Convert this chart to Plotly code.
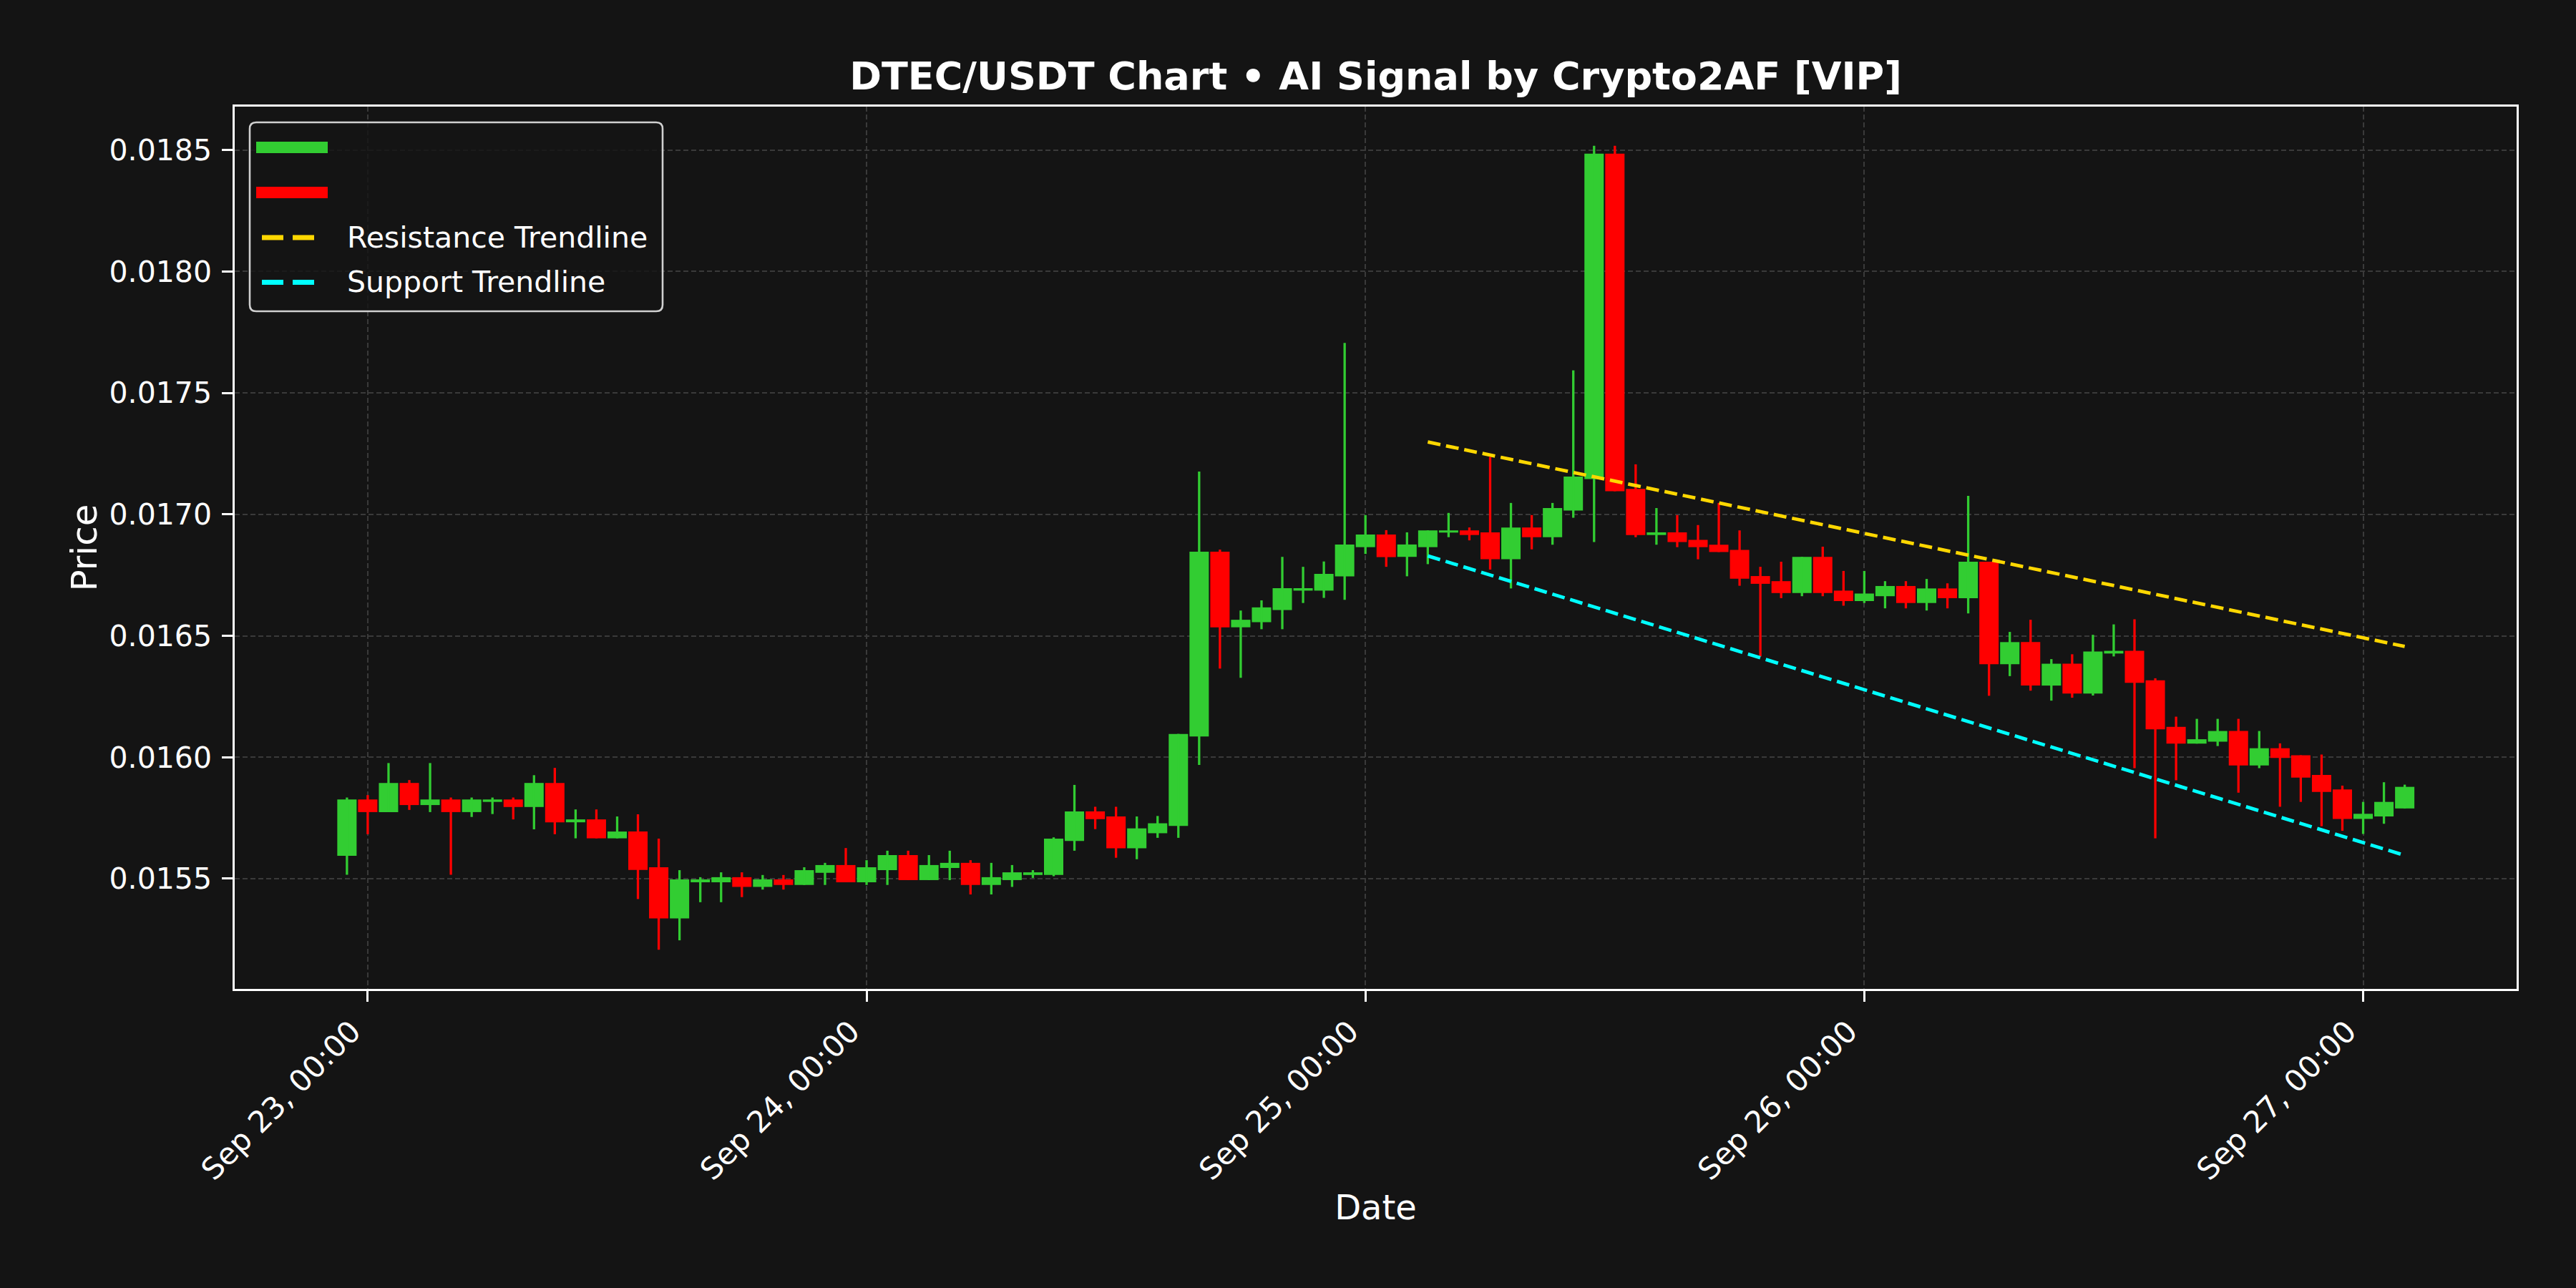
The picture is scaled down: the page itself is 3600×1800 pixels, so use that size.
import plotly.graph_objects as go
import pandas as pd

# ---------------- data ----------------
times = pd.date_range("2025-09-22 23:00", periods=100, freq="h")

opens = [0.015594, 0.015826, 0.015774, 0.015894, 0.015803, 0.015826, 0.015774, 0.015816, 0.015826, 0.015795,
         0.015894, 0.015732, 0.015744, 0.015666, 0.015694, 0.015547, 0.015336, 0.015485, 0.015485, 0.015506,
         0.015466, 0.015497, 0.015474, 0.015524, 0.015556, 0.015485, 0.015535, 0.015597, 0.015494, 0.015544,
         0.015565, 0.015474, 0.015494, 0.015515, 0.015515, 0.015655, 0.015777, 0.015756, 0.015625, 0.015687,
         0.015717, 0.016085, 0.016846, 0.016535, 0.016556, 0.016606, 0.016686, 0.016686, 0.016745, 0.016865,
         0.016917, 0.016825, 0.016865, 0.016925, 0.016934, 0.016926, 0.016815, 0.016946, 0.016906, 0.017016,
         0.017145, 0.018485, 0.017105, 0.016915, 0.016926, 0.016895, 0.016875, 0.016854, 0.016746, 0.016725,
         0.016676, 0.016825, 0.016686, 0.016643, 0.016663, 0.016705, 0.016635, 0.016695, 0.016655, 0.016805,
         0.016383, 0.016474, 0.016295, 0.016385, 0.016262, 0.016427, 0.016438, 0.016317, 0.016125, 0.016056,
         0.016064, 0.016108, 0.015966, 0.016037, 0.016008, 0.015927, 0.015867, 0.015746, 0.015756, 0.015789]

highs = [0.015834, 0.015844, 0.015976, 0.015906, 0.015976, 0.015834, 0.015834, 0.015834, 0.015834, 0.015926,
         0.015956, 0.015785, 0.015785, 0.015756, 0.015765, 0.015665, 0.015535, 0.015506, 0.015526, 0.015526,
         0.015515, 0.015515, 0.015547, 0.015565, 0.015626, 0.015576, 0.015615, 0.015615, 0.015597, 0.015615,
         0.015576, 0.015565, 0.015556, 0.015535, 0.015670, 0.015886, 0.015796, 0.015796, 0.015756, 0.015758,
         0.016096, 0.017176, 0.016855, 0.016604, 0.016646, 0.016825, 0.016784, 0.016806, 0.017706, 0.016997,
         0.016935, 0.016926, 0.016934, 0.017006, 0.016946, 0.017237, 0.017047, 0.016997, 0.017047, 0.017593,
         0.018518, 0.018518, 0.017206, 0.017026, 0.016997, 0.016956, 0.017047, 0.016934, 0.016784, 0.016805,
         0.016825, 0.016867, 0.016767, 0.016767, 0.016725, 0.016725, 0.016734, 0.016716, 0.017076, 0.016805,
         0.016516, 0.016566, 0.016404, 0.016424, 0.016504, 0.016547, 0.016568, 0.016325, 0.016167, 0.016158,
         0.016158, 0.016158, 0.016108, 0.016057, 0.016008, 0.016011, 0.015883, 0.015816, 0.015897, 0.015887]

lows = [0.015516, 0.015683, 0.015774, 0.015783, 0.015774, 0.015516, 0.015754, 0.015766, 0.015744, 0.015703,
        0.015683, 0.015666, 0.015666, 0.015666, 0.015416, 0.015207, 0.015246, 0.015403, 0.015403, 0.015424,
        0.015455, 0.015455, 0.015474, 0.015474, 0.015485, 0.015474, 0.015474, 0.015494, 0.015494, 0.015494,
        0.015435, 0.015435, 0.015466, 0.015503, 0.015510, 0.015615, 0.015704, 0.015586, 0.015580, 0.015668,
        0.015668, 0.015968, 0.016365, 0.016327, 0.016527, 0.016527, 0.016635, 0.016656, 0.016648, 0.016837,
        0.016784, 0.016745, 0.016795, 0.016906, 0.016893, 0.016773, 0.016695, 0.016856, 0.016875, 0.016986,
        0.016886, 0.017095, 0.016906, 0.016875, 0.016865, 0.016815, 0.016845, 0.016706, 0.016415, 0.016655,
        0.016663, 0.016663, 0.016624, 0.016635, 0.016613, 0.016613, 0.016604, 0.016613, 0.016592, 0.016253,
        0.016334, 0.016274, 0.016233, 0.016245, 0.016254, 0.016415, 0.015955, 0.015666, 0.015905, 0.016056,
        0.016046, 0.015854, 0.015955, 0.015796, 0.015816, 0.015716, 0.015697, 0.015684, 0.015726, 0.015789]

closes = [0.015826, 0.015774, 0.015894, 0.015803, 0.015826, 0.015774, 0.015826, 0.015826, 0.015795, 0.015894,
          0.015732, 0.015744, 0.015666, 0.015694, 0.015536, 0.015336, 0.015497, 0.015497, 0.015506, 0.015466,
          0.015497, 0.015474, 0.015535, 0.015556, 0.015485, 0.015547, 0.015597, 0.015494, 0.015556, 0.015565,
          0.015474, 0.015506, 0.015526, 0.015526, 0.015665, 0.015777, 0.015745, 0.015625, 0.015707, 0.015728,
          0.016096, 0.016846, 0.016535, 0.016566, 0.016617, 0.016696, 0.016696, 0.016755, 0.016876, 0.016917,
          0.016824, 0.016876, 0.016934, 0.016934, 0.016915, 0.016815, 0.016946, 0.016906, 0.017026, 0.017156,
          0.018485, 0.017095, 0.016915, 0.016926, 0.016886, 0.016865, 0.016845, 0.016735, 0.016714, 0.016676,
          0.016825, 0.016676, 0.016643, 0.016674, 0.016705, 0.016635, 0.016695, 0.016655, 0.016805, 0.016383,
          0.016474, 0.016295, 0.016385, 0.016262, 0.016435, 0.016438, 0.016306, 0.016115, 0.016056, 0.016074,
          0.016108, 0.015966, 0.016037, 0.015997, 0.015916, 0.015857, 0.015746, 0.015767, 0.015816, 0.015878]

trend_times = ["2025-09-25 03:00", "2025-09-27 02:00"]
resistance = [0.017298, 0.016456]
support = [0.016829, 0.015596]

y_ticks = [0.0155, 0.0160, 0.0165, 0.0170, 0.0175, 0.0180, 0.0185]
title_text = "DTEC/USDT Chart • AI Signal by Crypto2AF [VIP]"
legend_labels = ["", "", "Resistance Trendline", "Support Trendline"]

# ---------------- style ----------------
BG = "#141414"
GREEN = "#32CD32"
RED = "#FF0000"
GOLD = "#FFD700"
CYAN = "#00FFFF"
FONT = "DejaVu Sans"
W, H = 3600, 1800
L, R, T, B = 328, 83, 149, 418
PW, PH = W - L - R, H - T - B

up = [c >= o for o, c in zip(opens, closes)]

fig = go.Figure()

# wicks
for flag, color in ((True, GREEN), (False, RED)):
    wx, wy = [], []
    for t, hi, lo, u in zip(times, highs, lows, up):
        if u == flag:
            wx += [t, t, None]
            wy += [lo, hi, None]
    fig.add_trace(go.Scatter(x=wx, y=wy, mode="lines",
                             line=dict(color=color, width=3.3),
                             showlegend=False, hoverinfo="skip"))

# bodies
for flag, color in ((True, GREEN), (False, RED)):
    bx, bbase, bh = [], [], []
    for t, o, c, u in zip(times, opens, closes, up):
        if u == flag:
            bx.append(t)
            bbase.append(min(o, c))
            bh.append(abs(c - o))
    fig.add_trace(go.Bar(x=bx, y=bh, base=bbase, width=0.93 * 3600000,
                         marker=dict(color=color, line=dict(width=0)),
                         showlegend=False))

# trendlines
fig.add_trace(go.Scatter(x=trend_times, y=resistance, mode="lines",
                         line=dict(color=GOLD, width=4.8, dash="18px,8px"),
                         name=legend_labels[2], showlegend=False))
fig.add_trace(go.Scatter(x=trend_times, y=support, mode="lines",
                         line=dict(color=CYAN, width=4.8, dash="18px,8px"),
                         name=legend_labels[3], showlegend=False))


def px_x(p):
    return (p - L) / PW


def px_y(p):
    return (H - B - p) / PH


# manual legend (matplotlib-like)
x0, x1 = px_x(349), px_x(926)
y0, y1 = px_y(435), px_y(171)
rx, ry = 9 / PW, 9 / PH
path = (f"M {x0+rx},{y0} L {x1-rx},{y0} Q {x1},{y0} {x1},{y0+ry} "
        f"L {x1},{y1-ry} Q {x1},{y1} {x1-rx},{y1} L {x0+rx},{y1} "
        f"Q {x0},{y1} {x0},{y1-ry} L {x0},{y0+ry} Q {x0},{y0} {x0+rx},{y0} Z")
shapes = [dict(type="path", path=path, xref="paper", yref="paper",
               fillcolor="rgba(20,20,20,0.8)", line=dict(color="#d0d0d0", width=2.6), layer="above")]
shapes.append(dict(type="rect", xref="paper", yref="paper", x0=px_x(358), x1=px_x(458),
                   y0=px_y(214), y1=px_y(198), fillcolor=GREEN, line=dict(width=0), layer="above"))
shapes.append(dict(type="rect", xref="paper", yref="paper", x0=px_x(358), x1=px_x(458),
                   y0=px_y(277), y1=px_y(261), fillcolor=RED, line=dict(width=0), layer="above"))
for yy, col in ((332, GOLD), (394.5, CYAN)):
    shapes.append(dict(type="line", xref="paper", yref="paper", x0=px_x(366), x1=px_x(441),
                       y0=px_y(yy), y1=px_y(yy), line=dict(color=col, width=7, dash="30px,13px"),
                       layer="above"))

annotations = []
for yy, txt in ((206, legend_labels[0]), (269, legend_labels[1]), (332, legend_labels[2]), (394.5, legend_labels[3])):
    if txt:
        annotations.append(dict(text=txt, xref="paper", yref="paper", x=px_x(483), y=px_y(yy),
                                xanchor="left", yanchor="middle", showarrow=False,
                                font=dict(family=FONT, size=41, color="white")))

fig.update_layout(
    width=W, height=H,
    margin=dict(l=L, r=R, t=T, b=B, autoexpand=False),
    paper_bgcolor=BG, plot_bgcolor=BG,
    barmode="overlay",
    showlegend=False,
    font=dict(family=FONT, color="white", size=41),
    title=dict(text=title_text, x=0.5, xref="paper", xanchor="center",
               y=1 - 106 / H, yref="container", yanchor="middle",
               font=dict(family=FONT, size=54, color="white", weight="bold")),
    shapes=shapes,
    annotations=annotations,
)

fig.update_xaxes(
    type="date",
    range=["2025-09-22 17:36", "2025-09-27 07:23"],
    tick0="2025-09-23", dtick=86400000,
    tickformat="%b %d, %H:%M", tickangle=-45,
    ticks="outside", ticklen=15, tickwidth=2.5, tickcolor="white",
    ticklabelshift=-22,
    tickfont=dict(family=FONT, size=42, color="white"),
    showgrid=True, gridcolor="#3a3a3a", gridwidth=1.7, griddash="7px,4px",
    showline=True, linecolor="white", linewidth=2.6, mirror=True,
    zeroline=False, automargin=False,
    title=dict(text="Date", font=dict(family=FONT, size=48, color="white"), standoff=11),
)
fig.update_yaxes(
    range=[0.015046, 0.018679],
    tickvals=y_ticks, tickformat=".4f",
    ticks="outside", ticklen=15, tickwidth=2.5, tickcolor="white",
    ticklabelstandoff=6,
    tickfont=dict(family=FONT, size=41, color="white"),
    showgrid=True, gridcolor="#3a3a3a", gridwidth=1.7, griddash="7px,4px",
    showline=True, linecolor="white", linewidth=2.6, mirror=True,
    zeroline=False, automargin=False,
    title=dict(text="Price", font=dict(family=FONT, size=50, color="white"), standoff=2),
)

fig.write_html("out.html")
